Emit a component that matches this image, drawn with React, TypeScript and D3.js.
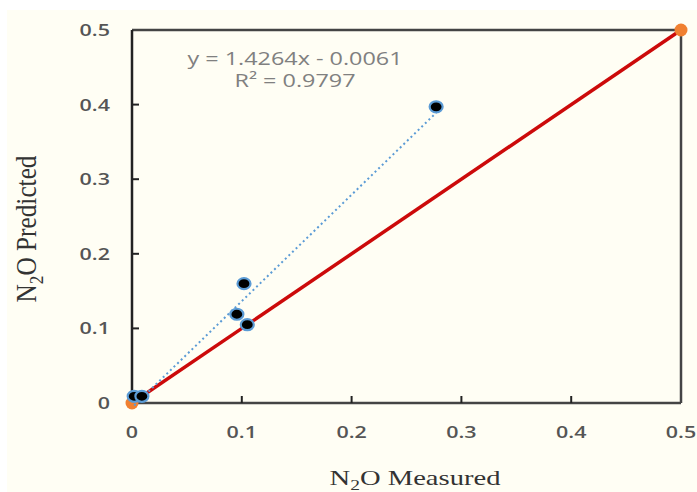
import React from "react";
import * as d3 from "d3";

const measured = [0.002, 0.009, 0.0955, 0.102, 0.105, 0.277];
const predicted = [0.009, 0.009, 0.119, 0.16, 0.105, 0.397];
const refX = [0, 0.5];
const refY = [0, 0.5];
const ticks = [0, 0.1, 0.2, 0.3, 0.4, 0.5];
const slope = 1.4264;
const intercept = -0.0061;
const eqText = "y = 1.4264x - 0.0061";
const r2Text = "R² = 0.9797";

const W = 697, H = 492;
const SX = 1.3;

export default function App() {
  const x = d3.scaleLinear().domain([0, 0.5]).range([132, 681]);
  const y = d3.scaleLinear().domain([0, 0.5]).range([403, 30]);
  const xmin = d3.min(measured)!, xmax = d3.max(measured)!;
  const trend = d3.line<number>().x((d) => x(d)).y((d) => y(slope * d + intercept));
  const refLine = d3.line<number>().x((d) => x(d)).y((_, i) => y(refY[i]));
  const tickFont = "'Open Sans', 'Noto Sans', sans-serif";
  const fmt = d3.format("~g");
  return (
    <svg width={W} height={H} style={{ position: "absolute", left: 0, top: 0 }}>
      <rect x={0} y={0} width={W} height={H} fill="#ffffff" />
      <rect x={7} y={10} width={W - 7} height={H - 10} fill="#fffef4" />
      {/* frame */}
      <line x1={x(0)} x2={x(0.5)} y1={y(0.5)} y2={y(0.5)} stroke="#444" strokeWidth={2.5} />
      <line x1={x(0.5)} x2={x(0.5)} y1={y(0.5)} y2={y(0)} stroke="#444" strokeWidth={2.5} />
      <line x1={x(0)} x2={x(0.5)} y1={y(0)} y2={y(0)} stroke="#444" strokeWidth={2.5} />
      <line x1={x(0)} x2={x(0)} y1={y(0.5)} y2={y(0)} stroke="#222" strokeWidth={2.5} />
      {ticks.slice(1, 5).map((t) => (
        <g key={"t" + t}>
          <line x1={x(0)} x2={x(0) + 7} y1={y(t)} y2={y(t)} stroke="#222" strokeWidth={2} />
          <line x1={x(t)} x2={x(t)} y1={y(0)} y2={y(0) - 7} stroke="#222" strokeWidth={2} />
        </g>
      ))}
      {ticks.map((t) => (
        <g key={"l" + t} fontFamily={tickFont} fontSize={16.5} fill="#555" fontWeight={600}>
          <text transform={`translate(110,${y(t)}) scale(${SX},1)`} textAnchor="end" dominantBaseline="central">{fmt(t)}</text>
          <text transform={`translate(${x(t)},432) scale(${SX},1)`} textAnchor="middle" dominantBaseline="central">{fmt(t)}</text>
        </g>
      ))}
      {/* reference line */}
      <path d={refLine(refX)!} stroke="#cc0a0a" strokeWidth={3.5} fill="none" />
      {refX.map((v, i) => (
        <circle key={"o" + i} cx={x(v)} cy={y(refY[i])} r={6.5} fill="#f08030" />
      ))}
      {/* trendline */}
      <path d={trend([xmin, xmax])!} stroke="#5b9bd5" strokeWidth={2} strokeDasharray="2 3" fill="none" />
      {measured.map((m, i) => (
        <ellipse key={"p" + i} cx={x(m)} cy={y(predicted[i])} rx={6.5} ry={5.5} fill="#000" stroke="#5b9bd5" strokeWidth={2.2} />
      ))}
      <g fontFamily={tickFont} fontSize={18} fill="#808080" textAnchor="middle">
        <text transform={`translate(295,65) scale(${SX},1)`}>{eqText}</text>
        <text transform={`translate(295,87) scale(${SX},1)`}>{r2Text}</text>
      </g>
      <text transform={`translate(415,485) scale(${SX},1)`} textAnchor="middle" fontFamily="'Liberation Serif', serif" fontSize={22} fill="#333">
        N<tspan fontSize={15} dy={5}>2</tspan><tspan dy={-5}>O Measured</tspan>
      </text>
      <text transform={`translate(36,229) rotate(-90) scale(1.15,${SX})`} textAnchor="middle" fontFamily="'Liberation Serif', serif" fontSize={22} fill="#333">
        N<tspan fontSize={15} dy={5}>2</tspan><tspan dy={-5}>O Predicted</tspan>
      </text>
    </svg>
  );
}
